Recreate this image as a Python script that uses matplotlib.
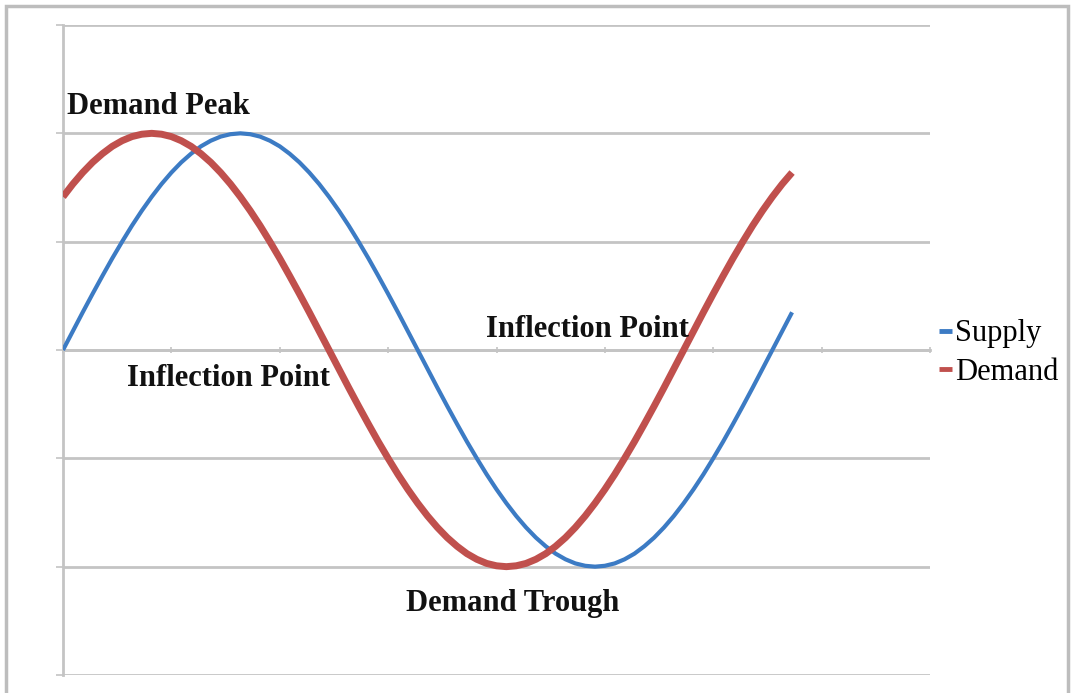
import matplotlib.pyplot as plt
from matplotlib.patches import Rectangle
from matplotlib.lines import Line2D
from matplotlib.ticker import MultipleLocator

# ─── DATA ───────────────────────────────────────────────────────────────────────
# phase angle (degrees) along the cycle, one point every 5 degrees
angle = list(range(0, 375, 5))

supply = [0.0, 0.087, 0.174, 0.259, 0.342, 0.423, 0.5, 0.574, 0.643, 0.707,
          0.766, 0.819, 0.866, 0.906, 0.94, 0.966, 0.985, 0.996, 1.0,
          0.996, 0.985, 0.966, 0.94, 0.906, 0.866, 0.819, 0.766, 0.707,
          0.643, 0.574, 0.5, 0.423, 0.342, 0.259, 0.174, 0.087, 0.0,
          -0.087, -0.174, -0.259, -0.342, -0.423, -0.5, -0.574, -0.643, -0.707,
          -0.766, -0.819, -0.866, -0.906, -0.94, -0.966, -0.985, -0.996, -1.0,
          -0.996, -0.985, -0.966, -0.94, -0.906, -0.866, -0.819, -0.766, -0.707,
          -0.643, -0.574, -0.5, -0.423, -0.342, -0.259, -0.174, -0.087, 0.0,
          0.087, 0.174]

demand = [0.707, 0.766, 0.819, 0.866, 0.906, 0.94, 0.966, 0.985, 0.996, 1.0,
          0.996, 0.985, 0.966, 0.94, 0.906, 0.866, 0.819, 0.766, 0.707,
          0.643, 0.574, 0.5, 0.423, 0.342, 0.259, 0.174, 0.087, 0.0,
          -0.087, -0.174, -0.259, -0.342, -0.423, -0.5, -0.574, -0.643, -0.707,
          -0.766, -0.819, -0.866, -0.906, -0.94, -0.966, -0.985, -0.996, -1.0,
          -0.996, -0.985, -0.966, -0.94, -0.906, -0.866, -0.819, -0.766, -0.707,
          -0.643, -0.574, -0.5, -0.423, -0.342, -0.259, -0.174, -0.087, 0.0,
          0.087, 0.174, 0.259, 0.342, 0.423, 0.5, 0.574, 0.643, 0.707, 0.766, 0.819]

labels = ["Demand Peak", "Inflection Point", "Inflection Point", "Demand Trough"]
label_pos = [(2, 1.125), (32.5, -0.13), (214.5, 0.095), (174, -1.17)]

# ─── STYLE ──────────────────────────────────────────────────────────────────────
BLUE = "#3c7bc4"
RED = "#c0504d"
GRID = "#c4c4c4"
SERIF = ["Liberation Serif", "DejaVu Serif"]

fig = plt.figure(figsize=(10.73, 6.93), dpi=100)
fig.patch.set_facecolor("white")

# outer chart border (bottom edge falls outside the picture)
fig.patches.append(Rectangle((6 / 1073, -0.05), 1062 / 1073, 1.05 - 6 / 693,
                             transform=fig.transFigure, fill=False,
                             edgecolor="#bdbdbd", linewidth=2.5))

ax = fig.add_axes([63 / 1073, 18 / 693, 867 / 1073, 650 / 693])
ax.set_xlim(0, 440)
ax.set_ylim(-1.5, 1.5)

ax.plot(angle, supply, color=BLUE, linewidth=3.0, solid_capstyle="butt",
        solid_joinstyle="round", zorder=3)
ax.plot(angle, demand, color=RED, linewidth=5.0, solid_capstyle="butt",
        solid_joinstyle="round", zorder=4)

# gridlines & axes
ax.yaxis.set_major_locator(MultipleLocator(0.5))
ax.xaxis.set_major_locator(MultipleLocator(55))
ax.grid(axis="y", color=GRID, linewidth=2)
ax.set_axisbelow(True)
for s in ["top", "right"]:
    ax.spines[s].set_visible(False)
ax.spines["left"].set_color(GRID)
ax.spines["left"].set_linewidth(2)
ax.spines["bottom"].set_position(("data", 0))
ax.spines["bottom"].set_color(GRID)
ax.spines["bottom"].set_linewidth(2)
ax.tick_params(axis="y", length=5, width=1.2, color=GRID, labelleft=False)
ax.tick_params(axis="x", length=5, width=1.2, color=GRID, direction="inout", labelbottom=False)

# annotations
for txt, (x, y) in zip(labels, label_pos):
    ax.text(x, y, txt, fontsize=22, fontweight="bold", family=SERIF,
            ha="left", va="center", color="#111111", zorder=5)

# legend with short Excel-style line keys
handles = [Line2D([], [], color=BLUE, linewidth=3.5, solid_capstyle="butt"),
           Line2D([], [], color=RED, linewidth=3.5, solid_capstyle="butt")]
fig.legend(handles, ["Supply", "Demand"], loc="center left",
           bbox_to_anchor=(918 / 1073, 1 - 353 / 693),
           frameon=False, handlelength=0.4, handletextpad=0.1,
           labelspacing=0.3, borderpad=0.2,
           prop={"family": SERIF, "size": 22})

fig.savefig("out.png", dpi=100)
